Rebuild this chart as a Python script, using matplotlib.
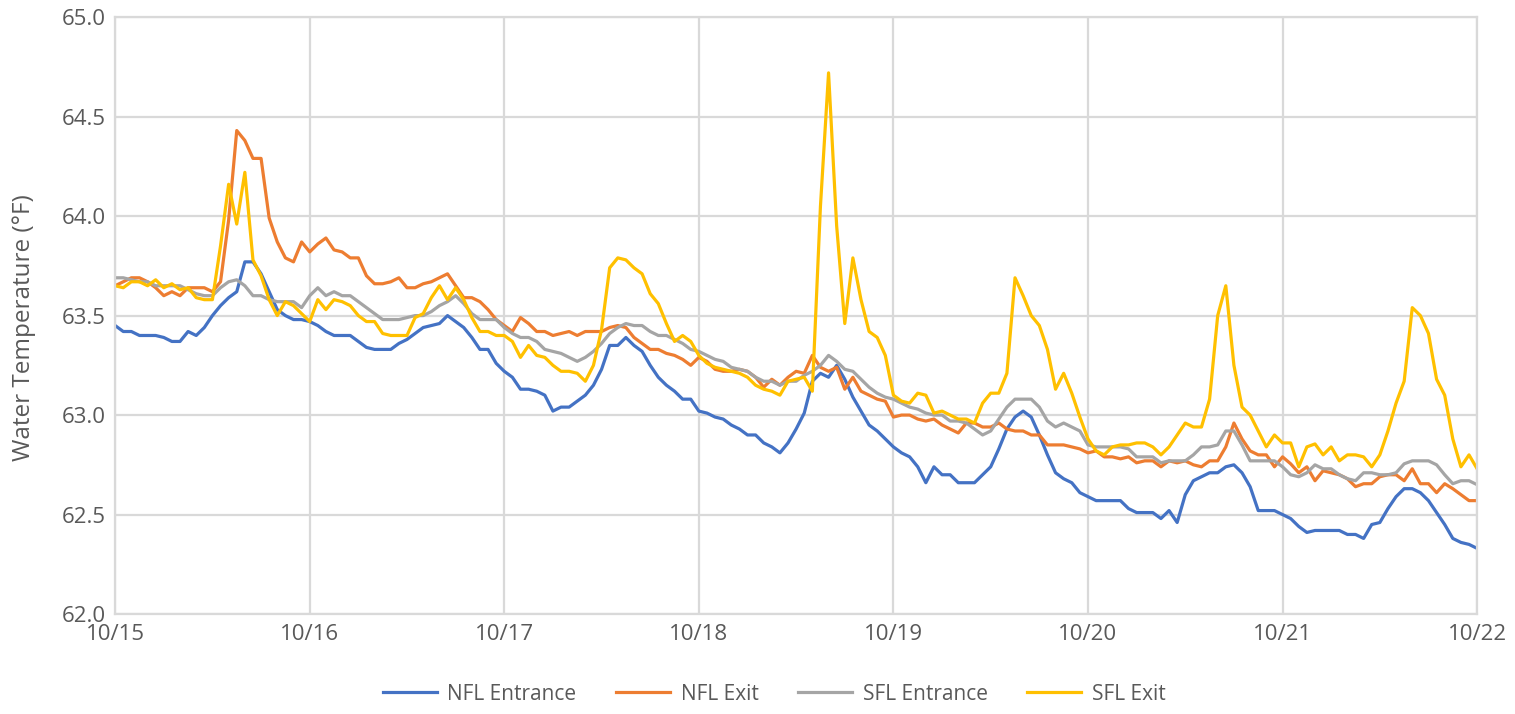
import matplotlib
matplotlib.use("Agg")
import matplotlib.pyplot as plt
import numpy as np

plt.rcParams['font.family'] = ['Open Sans', 'DejaVu Sans']

# hourly readings, 10/15 00:00 through 10/22 00:00 (one row per half day)
nfl_entrance = [
    63.45, 63.42, 63.42, 63.40, 63.40, 63.40, 63.39, 63.37, 63.37, 63.42, 63.40, 63.44,
    63.50, 63.55, 63.59, 63.62, 63.77, 63.77, 63.71, 63.62, 63.53, 63.50, 63.48, 63.48,
    63.47, 63.45, 63.42, 63.40, 63.40, 63.40, 63.37, 63.34, 63.33, 63.33, 63.33, 63.36,
    63.38, 63.41, 63.44, 63.45, 63.46, 63.50, 63.47, 63.44, 63.39, 63.33, 63.33, 63.26,
    63.22, 63.19, 63.13, 63.13, 63.12, 63.10, 63.02, 63.04, 63.04, 63.07, 63.10, 63.15,
    63.23, 63.35, 63.35, 63.39, 63.35, 63.32, 63.25, 63.19, 63.15, 63.12, 63.08, 63.08,
    63.02, 63.01, 62.99, 62.98, 62.95, 62.93, 62.90, 62.90, 62.86, 62.84, 62.81, 62.86,
    62.93, 63.01, 63.17, 63.21, 63.19, 63.25, 63.18, 63.09, 63.02, 62.95, 62.92, 62.88,
    62.84, 62.81, 62.79, 62.74, 62.66, 62.74, 62.70, 62.70, 62.66, 62.66, 62.66, 62.70,
    62.74, 62.83, 62.93, 62.99, 63.02, 62.99, 62.90, 62.80, 62.71, 62.68, 62.66, 62.61,
    62.59, 62.57, 62.57, 62.57, 62.57, 62.53, 62.51, 62.51, 62.51, 62.48, 62.52, 62.46,
    62.60, 62.67, 62.69, 62.71, 62.71, 62.74, 62.75, 62.71, 62.64, 62.52, 62.52, 62.52,
    62.50, 62.48, 62.44, 62.41, 62.42, 62.42, 62.42, 62.42, 62.40, 62.40, 62.38, 62.45,
    62.46, 62.53, 62.59, 62.63, 62.63, 62.61, 62.57, 62.51, 62.45, 62.38, 62.36, 62.35,
    62.33,
]
nfl_exit = [
    63.65, 63.67, 63.69, 63.69, 63.67, 63.64, 63.60, 63.62, 63.60, 63.64, 63.64, 63.64,
    63.62, 63.67, 63.98, 64.43, 64.38, 64.29, 64.29, 63.99, 63.87, 63.79, 63.77, 63.87,
    63.82, 63.86, 63.89, 63.83, 63.82, 63.79, 63.79, 63.70, 63.66, 63.66, 63.67, 63.69,
    63.64, 63.64, 63.66, 63.67, 63.69, 63.71, 63.65, 63.59, 63.59, 63.57, 63.53, 63.48,
    63.45, 63.42, 63.49, 63.46, 63.42, 63.42, 63.40, 63.41, 63.42, 63.40, 63.42, 63.42,
    63.42, 63.44, 63.45, 63.44, 63.39, 63.36, 63.33, 63.33, 63.31, 63.30, 63.28, 63.25,
    63.29, 63.27, 63.23, 63.22, 63.22, 63.23, 63.22, 63.19, 63.14, 63.18, 63.15, 63.19,
    63.22, 63.21, 63.30, 63.24, 63.22, 63.24, 63.13, 63.19, 63.12, 63.10, 63.08, 63.07,
    62.99, 63.00, 63.00, 62.98, 62.97, 62.98, 62.95, 62.93, 62.91, 62.96, 62.96, 62.94,
    62.94, 62.96, 62.93, 62.92, 62.92, 62.90, 62.90, 62.85, 62.85, 62.85, 62.84, 62.83,
    62.81, 62.82, 62.79, 62.79, 62.78, 62.79, 62.76, 62.77, 62.77, 62.74, 62.77, 62.76,
    62.77, 62.75, 62.74, 62.77, 62.77, 62.84, 62.96, 62.88, 62.82, 62.80, 62.80, 62.74,
    62.79, 62.755, 62.71, 62.74, 62.67, 62.72, 62.71, 62.70, 62.68, 62.64, 62.655, 62.655,
    62.69, 62.70, 62.70, 62.67, 62.73, 62.655, 62.655, 62.61, 62.655, 62.63, 62.60, 62.57,
    62.57,
]
sfl_entrance = [
    63.69, 63.69, 63.68, 63.67, 63.67, 63.65, 63.65, 63.65, 63.65, 63.63, 63.61, 63.60,
    63.60, 63.64, 63.67, 63.68, 63.65, 63.60, 63.60, 63.58, 63.57, 63.57, 63.57, 63.54,
    63.60, 63.64, 63.60, 63.62, 63.60, 63.60, 63.57, 63.54, 63.51, 63.48, 63.48, 63.48,
    63.49, 63.50, 63.50, 63.52, 63.55, 63.57, 63.60, 63.56, 63.51, 63.48, 63.48, 63.48,
    63.44, 63.41, 63.39, 63.39, 63.37, 63.33, 63.32, 63.31, 63.29, 63.27, 63.29, 63.32,
    63.36, 63.41, 63.44, 63.46, 63.45, 63.45, 63.42, 63.40, 63.40, 63.38, 63.36, 63.33,
    63.32, 63.30, 63.28, 63.27, 63.24, 63.23, 63.22, 63.19, 63.17, 63.17, 63.15, 63.17,
    63.17, 63.20, 63.22, 63.25, 63.30, 63.27, 63.23, 63.22, 63.18, 63.14, 63.11, 63.09,
    63.08, 63.06, 63.04, 63.03, 63.01, 63.00, 63.00, 62.97, 62.97, 62.96, 62.93, 62.90,
    62.92, 62.98, 63.04, 63.08, 63.08, 63.08, 63.04, 62.97, 62.94, 62.96, 62.94, 62.92,
    62.85, 62.84, 62.84, 62.84, 62.84, 62.83, 62.79, 62.79, 62.79, 62.76, 62.77, 62.77,
    62.77, 62.80, 62.84, 62.84, 62.85, 62.92, 62.92, 62.85, 62.77, 62.77, 62.77, 62.77,
    62.74, 62.70, 62.69, 62.71, 62.75, 62.73, 62.73, 62.70, 62.68, 62.67, 62.71, 62.71,
    62.70, 62.70, 62.71, 62.755, 62.77, 62.77, 62.77, 62.75, 62.70, 62.655, 62.67, 62.67,
    62.65,
]
sfl_exit = [
    63.65, 63.64, 63.67, 63.67, 63.65, 63.68, 63.64, 63.66, 63.63, 63.64, 63.59, 63.58,
    63.58, 63.85, 64.16, 63.96, 64.22, 63.78, 63.70, 63.58, 63.50, 63.57, 63.55, 63.51,
    63.47, 63.58, 63.53, 63.58, 63.57, 63.55, 63.50, 63.47, 63.47, 63.41, 63.40, 63.40,
    63.40, 63.49, 63.51, 63.59, 63.65, 63.58, 63.64, 63.58, 63.49, 63.42, 63.42, 63.40,
    63.40, 63.37, 63.29, 63.35, 63.30, 63.29, 63.25, 63.22, 63.22, 63.21, 63.17, 63.25,
    63.43, 63.74, 63.79, 63.78, 63.74, 63.71, 63.61, 63.56, 63.46, 63.37, 63.40, 63.37,
    63.30, 63.26, 63.24, 63.23, 63.22, 63.21, 63.19, 63.15, 63.13, 63.12, 63.10, 63.17,
    63.18, 63.19, 63.12, 64.05, 64.72, 63.95, 63.46, 63.79, 63.58, 63.42, 63.39, 63.30,
    63.10, 63.07, 63.06, 63.11, 63.10, 63.01, 63.02, 63.00, 62.98, 62.98, 62.96, 63.06,
    63.11, 63.11, 63.21, 63.69, 63.60, 63.50, 63.45, 63.33, 63.13, 63.21, 63.11, 62.99,
    62.88, 62.82, 62.80, 62.84, 62.85, 62.85, 62.86, 62.86, 62.84, 62.80, 62.84, 62.90,
    62.96, 62.94, 62.94, 63.08, 63.50, 63.65, 63.25, 63.04, 63.00, 62.92, 62.84, 62.90,
    62.86, 62.86, 62.74, 62.84, 62.855, 62.80, 62.84, 62.77, 62.80, 62.80, 62.79, 62.74,
    62.80, 62.92, 63.06, 63.17, 63.54, 63.50, 63.41, 63.18, 63.10, 62.88, 62.74, 62.80,
    62.73,
]

day_labels = ['10/15', '10/16', '10/17', '10/18', '10/19', '10/20', '10/21', '10/22']
series = [
    ('NFL Entrance', nfl_entrance, '#4472C4'),
    ('NFL Exit', nfl_exit, '#ED7D31'),
    ('SFL Entrance', sfl_entrance, '#A5A5A5'),
    ('SFL Exit', sfl_exit, '#FFC000'),
]

hours = np.arange(len(nfl_entrance))

fig = plt.figure(figsize=(15.15, 7.14), dpi=100)
ax = fig.add_axes([0.076, 0.14, 0.899, 0.836])

for name, vals, color in series:
    ax.plot(hours, vals, color=color, lw=2.3, label=name, solid_joinstyle='round')

ax.set_xlim(0, 168)
ax.set_ylim(62.0, 65.0)
ax.set_xticks(np.arange(0, 169, 24))
ax.set_xticklabels(day_labels)
yt = np.arange(62.0, 65.01, 0.5)
ax.set_yticks(yt)
ax.set_yticklabels([f'{v:.1f}' for v in yt])
ax.grid(True, color='#d9d9d9', lw=1.6)
ax.set_axisbelow(True)
for s in ax.spines.values():
    s.set_color('#d9d9d9')
    s.set_linewidth(1.6)
ax.tick_params(length=0, labelsize=16, colors='#595959', pad=7)
ax.set_ylabel('Water Temperature (°F)', fontsize=17.5, color='#595959', labelpad=6)
ax.yaxis.set_label_coords(-0.058, 0.48)

fig.legend(loc='lower center', bbox_to_anchor=(0.511, -0.013), ncol=4, frameon=False,
           fontsize=15, handlelength=2.6, handletextpad=0.5, columnspacing=1.9,
           labelcolor='#595959')

fig.savefig('out.png', dpi=100)
